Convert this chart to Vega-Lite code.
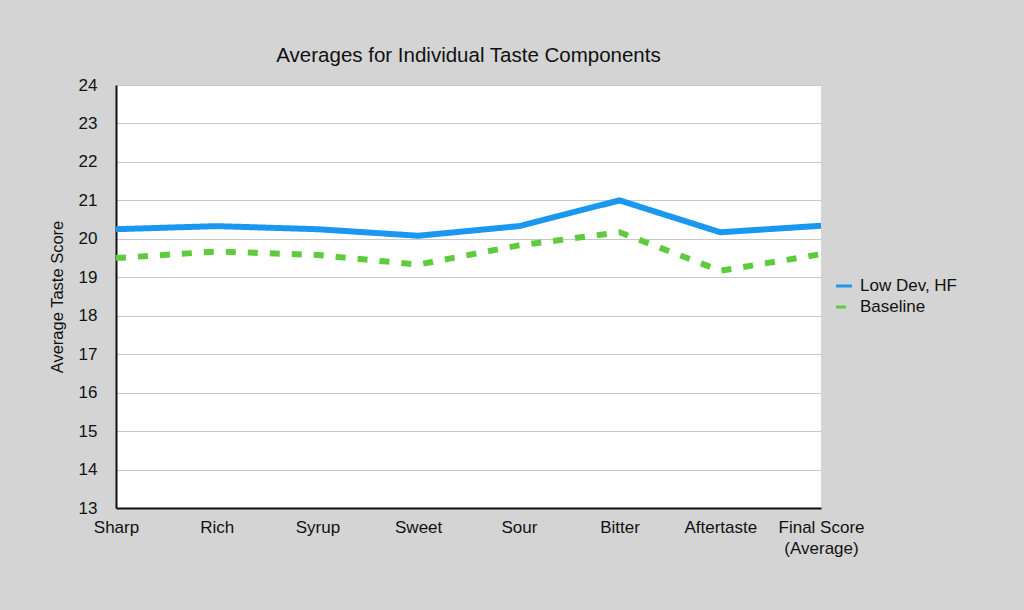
{
  "$schema": "https://vega.github.io/schema/vega-lite/v6.json",
  "description": "Averages for individual taste components, Low Dev HF vs Baseline.",
  "autosize": {"type": "none"},
  "width": 705,
  "height": 423,
  "padding": {"left": 116, "top": 85, "right": 203, "bottom": 102},
  "background": "#d4d4d4",
  "title": {
    "text": "Averages for Individual Taste Components",
    "fontSize": 20.5,
    "fontWeight": "normal",
    "font": "Liberation Sans",
    "color": "#111111",
    "offset": 10
  },
  "data": {
    "values": [
      {"component": "Sharp", "series": "Low Dev, HF", "score": 20.25},
      {"component": "Rich", "series": "Low Dev, HF", "score": 20.33},
      {"component": "Syrup", "series": "Low Dev, HF", "score": 20.25},
      {"component": "Sweet", "series": "Low Dev, HF", "score": 20.08},
      {"component": "Sour", "series": "Low Dev, HF", "score": 20.33},
      {"component": "Bitter", "series": "Low Dev, HF", "score": 21.0},
      {"component": "Aftertaste", "series": "Low Dev, HF", "score": 20.17},
      {"component": "Final Score (Average)", "series": "Low Dev, HF", "score": 20.34},
      {"component": "Sharp", "series": "Baseline", "score": 19.5},
      {"component": "Rich", "series": "Baseline", "score": 19.67},
      {"component": "Syrup", "series": "Baseline", "score": 19.58},
      {"component": "Sweet", "series": "Baseline", "score": 19.33},
      {"component": "Sour", "series": "Baseline", "score": 19.83},
      {"component": "Bitter", "series": "Baseline", "score": 20.17},
      {"component": "Aftertaste", "series": "Baseline", "score": 19.17},
      {"component": "Final Score (Average)", "series": "Baseline", "score": 19.6}
    ]
  },
  "mark": {"type": "line", "strokeWidth": 6, "strokeCap": "butt", "strokeJoin": "miter"},
  "encoding": {
    "x": {
      "field": "component",
      "type": "nominal",
      "sort": ["Sharp", "Rich", "Syrup", "Sweet", "Sour", "Bitter", "Aftertaste", "Final Score (Average)"],
      "scale": {"type": "point", "padding": 0},
      "axis": {
        "title": null,
        "labelAngle": 0,
        "labelPadding": 11,
        "labelLineHeight": 21,
        "ticks": false,
        "domainColor": "#111111",
        "domainWidth": 2,
        "gridColor": "#c8c8c8",
        "labelExpr": "datum.label == 'Final Score (Average)' ? ['Final Score', '(Average)'] : datum.label"
      }
    },
    "y": {
      "field": "score",
      "type": "quantitative",
      "scale": {"domain": [13, 24], "nice": false, "zero": false},
      "axis": {
        "title": "Average Taste Score",
        "values": [13, 14, 15, 16, 17, 18, 19, 20, 21, 22, 23, 24],
        "ticks": false,
        "labelPadding": 19,
        "titlePadding": 13,
        "domainColor": "#111111",
        "domainWidth": 2,
        "gridColor": "#c8c8c8"
      }
    },
    "color": {
      "field": "series",
      "type": "nominal",
      "title": null,
      "scale": {"domain": ["Low Dev, HF", "Baseline"], "range": ["#1a98ef", "#5ecb3e"]},
      "legend": {
        "orient": "none",
        "legendX": 718,
        "legendY": 191,
        "symbolType": "stroke",
        "symbolStrokeWidth": 3,
        "symbolSize": 260,
        "labelFontSize": 17,
        "labelOffset": 6,
        "rowPadding": 3
      }
    },
    "strokeDash": {
      "field": "series",
      "type": "nominal",
      "title": null,
      "scale": {"domain": ["Low Dev, HF", "Baseline"], "range": [[1, 0], [10, 12]]}
    }
  },
  "config": {
    "font": "Liberation Sans",
    "view": {"fill": "white", "stroke": null},
    "axis": {
      "labelFontSize": 17,
      "labelColor": "#111111",
      "titleFontSize": 16.5,
      "titleFontWeight": "normal",
      "titleColor": "#111111"
    },
    "legend": {"labelColor": "#111111"}
  }
}
